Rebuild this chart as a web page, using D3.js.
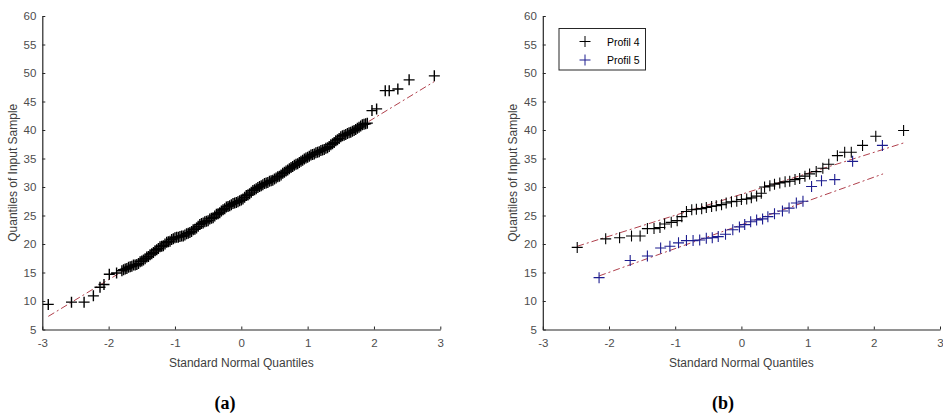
<!DOCTYPE html>
<html><head><meta charset="utf-8">
<script src="https://cdn.jsdelivr.net/npm/d3@7"></script>
<style>
html,body{margin:0;padding:0;background:#fff;}
</style></head>
<body><svg id="c" width="943" height="417"></svg>
<script>
// ---------- data ----------
const xTicks = [-3,-2,-1,0,1,2,3];
const yTicks = [5,10,15,20,25,30,35,40,45,50,55,60];

// Panel (a)
const qA = [-2.91,-2.56,-2.37,-2.23,-2.13,-2.07,-1.99,-1.88,
 -1.80,-1.75,-1.70,-1.65,-1.60,-1.55,-1.50,-1.45,-1.40,-1.35,-1.30,-1.25,-1.20,-1.15,-1.10,-1.05,
 -1.00,-0.95,-0.90,-0.85,-0.80,-0.75,-0.70,-0.65,-0.60,-0.55,-0.50,-0.45,-0.40,-0.35,-0.30,-0.25,
 -0.20,-0.15,-0.10,-0.05,0.00,0.05,0.10,0.15,0.20,0.25,0.30,0.35,0.40,0.45,0.50,0.55,0.60,0.65,
 0.70,0.75,0.80,0.85,0.90,0.95,1.00,1.05,1.10,1.15,1.20,1.25,1.30,1.35,1.40,1.45,1.50,1.55,1.60,
 1.65,1.70,1.75,1.80,1.85,1.90,1.97,2.04,2.17,2.23,2.36,2.53,2.91];
const vA = [9.4,9.8,9.8,10.9,12.4,12.9,14.7,14.9,
 15.3,15.6,15.9,16.1,16.3,16.6,17.0,17.4,17.8,18.3,18.8,19.2,19.6,20.0,20.4,20.8,
 21.1,21.2,21.4,21.6,21.9,22.2,22.6,23.1,23.6,23.9,24.1,24.5,24.9,25.3,25.8,26.2,
 26.6,26.9,27.2,27.4,27.7,28.2,28.6,29.1,29.5,29.9,30.2,30.6,30.8,31.1,31.4,31.8,32.1,32.6,
 33.0,33.4,33.8,34.1,34.5,34.9,35.2,35.6,35.8,36.1,36.4,36.6,36.9,37.4,37.8,38.3,38.8,39.1,39.4,
 39.6,39.9,40.3,40.7,41.0,41.2,43.4,43.7,46.9,46.9,47.2,48.8,49.5];
// further samples inside the dense band of panel (a)
const qA2 = [-1.775,-1.725,-1.675,-1.625,-1.575,-1.525,-1.475,-1.425,-1.375,-1.325,-1.275,-1.225,
 -1.175,-1.125,-1.075,-1.025,-0.975,-0.925,-0.875,-0.825,-0.775,-0.725,-0.675,-0.625,-0.575,-0.525,
 -0.475,-0.425,-0.375,-0.325,-0.275,-0.225,-0.175,-0.125,-0.075,-0.025,0.025,0.075,0.125,0.175,
 0.225,0.275,0.325,0.375,0.425,0.475,0.525,0.575,0.625,0.675,0.725,0.775,0.825,0.875,0.925,0.975,
 1.025,1.075,1.125,1.175,1.225,1.275,1.325,1.375,1.425,1.475,1.525,1.575,1.625,1.675,1.725,1.775,
 1.825,1.875];
const vA2 = [15.5,15.7,16.0,16.3,16.4,16.9,17.2,17.7,18.1,18.5,19.0,19.5,
 19.7,20.3,20.5,20.9,21.2,21.3,21.4,21.8,22.0,22.5,22.8,23.4,23.7,24.0,
 24.4,24.6,25.2,25.5,26.0,26.5,26.7,27.1,27.3,27.6,27.9,28.5,28.8,29.4,
 29.7,30.1,30.4,30.7,31.0,31.2,31.6,31.9,32.4,32.8,33.2,33.6,34.0,34.3,34.7,35.1,
 35.4,35.7,36.0,36.2,36.5,36.8,37.1,37.6,38.1,38.5,39.0,39.2,39.5,39.8,40.1,40.5,
 40.9,41.1];
const lineAq = [-2.91, 2.91];
const lineAv = [7.3, 48.5];

// Panel (b)
const seriesNames = ["Profil 4","Profil 5"];
const q4 = [-2.48,-2.05,-1.84,-1.66,-1.53,-1.42,-1.32,-1.23,-1.16,-1.06,-0.97,-0.90,-0.83,-0.75,-0.68,
 -0.60,-0.53,-0.45,-0.38,-0.30,-0.23,-0.15,-0.07,0.00,0.08,0.15,0.23,0.30,0.35,0.43,0.50,0.58,0.66,
 0.73,0.81,0.88,0.96,1.03,1.13,1.23,1.32,1.45,1.56,1.66,1.83,2.03,2.45];
const v4 = [19.4,20.9,21.1,21.4,21.4,22.7,22.7,22.9,23.5,23.8,24.1,24.8,25.7,26.0,26.1,
 26.2,26.4,26.6,26.7,26.9,27.2,27.4,27.5,27.8,27.9,28.1,28.4,28.9,30.0,30.2,30.5,30.7,30.9,
 31.0,31.3,31.5,31.9,32.3,32.7,33.3,34.0,35.5,36.1,36.1,37.3,38.9,39.9];
const q5 = [-2.15,-1.68,-1.42,-1.22,-1.08,-0.95,-0.83,-0.73,-0.63,-0.53,-0.44,-0.35,-0.24,-0.13,-0.03,
 0.05,0.14,0.23,0.32,0.40,0.50,0.62,0.72,0.83,0.93,1.06,1.21,1.41,1.68,2.13];
const v5 = [14.1,17.1,17.9,19.3,19.6,20.2,20.6,20.6,20.7,21.0,21.1,21.3,21.7,22.5,23.0,
 23.4,23.9,24.2,24.4,24.8,25.3,25.8,26.3,27.2,27.5,30.1,31.1,31.3,34.5,37.3];
const line4q = [-2.48, 2.47], line4v = [19.6, 37.8];
const line5q = [-2.15, 2.14], line5v = [14.4, 32.3];

// ---------- drawing ----------
const svg = d3.select("#c");
const sans = "Liberation Sans, Arial, sans-serif";
const serif = "Liberation Serif, Times New Roman, serif";
const axisColor = "#262626", tickText = "#4d4d4d";
const fitColor = "#b0404c";
const blue = "#1c1c8f";

function panel(left, right, top, bottom, ylabX) {
  const x = d3.scaleLinear().domain([-3,3]).range([left,right]);
  const y = d3.scaleLinear().domain([5,60]).range([bottom,top]);
  const g = svg.append("g");
  const xa = g.append("g").attr("transform",`translate(0,${bottom})`)
    .call(d3.axisBottom(x).tickValues(xTicks).tickFormat(d=>String(d))
      .tickSizeInner(-3).tickSizeOuter(0).tickPadding(9));
  const ya = g.append("g").attr("transform",`translate(${left},0)`)
    .call(d3.axisLeft(y).tickValues(yTicks).tickFormat(d=>String(d))
      .tickSizeInner(-3).tickSizeOuter(0).tickPadding(6));
  [xa,ya].forEach(a=>{
    a.select(".domain").attr("stroke",axisColor).attr("stroke-width",1.2);
    a.selectAll(".tick line").attr("stroke",axisColor);
    a.selectAll(".tick text").attr("fill",tickText).attr("font-size",11.5)
      .attr("font-family",sans);
  });
  g.append("text").attr("x",x(0)).attr("y",bottom+37).attr("text-anchor","middle")
    .attr("font-family",sans).attr("font-size",12).attr("fill","#404040").text("Standard Normal Quantiles");
  g.append("text").attr("transform",`translate(${ylabX},${(top+bottom)/2}) rotate(-90)`)
    .attr("text-anchor","middle").attr("dominant-baseline","central")
    .attr("font-family",sans).attr("font-size",12).attr("fill","#404040").text("Quantiles of Input Sample");
  return {x,y,g};
}

function crosses(p, qs, vs, color, s, w) {
  const h = s/2;
  const pts = qs.map((q,i)=>[p.x(q), p.y(vs[i])]);
  p.g.append("path")
    .attr("d", pts.map(([a,b])=>`M${a-h},${b}H${a+h}M${a},${b-h}V${b+h}`).join(""))
    .attr("stroke",color).attr("stroke-width",w||1).attr("fill","none");
}
function fit(p, qs, vs) {
  p.g.append("line")
    .attr("x1",p.x(qs[0])).attr("y1",p.y(vs[0]))
    .attr("x2",p.x(qs[1])).attr("y2",p.y(vs[1]))
    .attr("stroke",fitColor).attr("stroke-width",1)
    .attr("stroke-dasharray","7,3,2,3");
}

// (a)
const pa = panel(42.3, 440.3, 16, 329.5, 13);
fit(pa, lineAq, lineAv);
crosses(pa, qA, vA, "#000", 11, 1.4);
crosses(pa, qA2, vA2, "#000", 11, 1.4);

// (b)
const pb = panel(542.8, 940, 16, 329.5, 513);
fit(pb, line4q, line4v);
fit(pb, line5q, line5v);
crosses(pb, q4, v4, "#000", 11, 1.1);
crosses(pb, q5, v5, blue, 11, 1.1);

// legend
const lg = pb.g.append("g");
lg.append("rect").attr("x",559).attr("y",28.5).attr("width",86.5).attr("height",41.5)
  .attr("fill","#fff").attr("stroke","#262626").attr("stroke-width",1);
const legColors = ["#000", blue];
seriesNames.forEach((n,i)=>{
  const cy = 41.5 + i*18.5, cx = 585;
  lg.append("path").attr("d",`M${cx-5.5},${cy}H${cx+5.5}M${cx},${cy-5.5}V${cy+5.5}`)
    .attr("stroke",legColors[i]).attr("stroke-width",1);
  lg.append("text").attr("x",607).attr("y",cy).attr("dominant-baseline","central")
    .attr("font-family",sans).attr("font-size",10.5).attr("fill","#000").text(n);
});

// panel captions
svg.append("text").attr("x",225).attr("y",409).attr("text-anchor","middle")
  .attr("font-family",serif).attr("font-weight","bold")
  .attr("font-size",18).attr("fill","#000").text("(a)");
svg.append("text").attr("x",723).attr("y",409).attr("text-anchor","middle")
  .attr("font-family",serif).attr("font-weight","bold")
  .attr("font-size",18).attr("fill","#000").text("(b)");
</script>
</body></html>
